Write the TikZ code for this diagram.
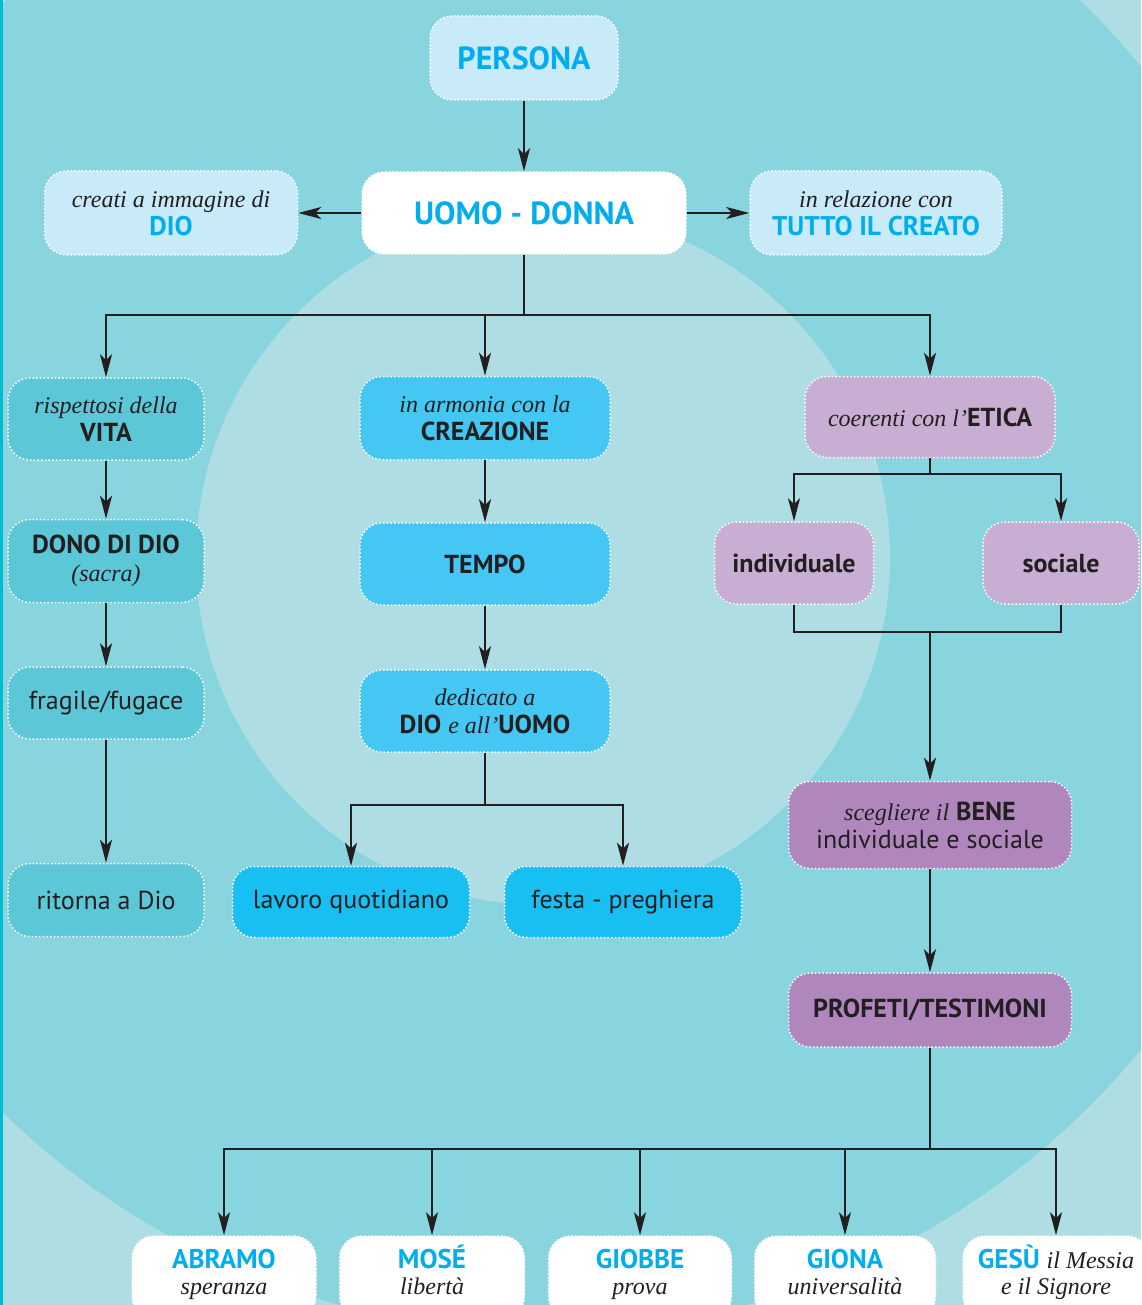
\documentclass[tikz,border=0pt]{standalone}
\usepackage{fontspec}
\setmainfont{PT Sans}
\newfontfamily\garafont{Liberation Serif}
\usetikzlibrary{arrows.meta}
\definecolor{fondo}{HTML}{88D4DF}
\definecolor{alone}{HTML}{AEDDE3}
\definecolor{bordo}{HTML}{00BCD0}
\definecolor{celestino}{HTML}{C9EAF8}
\definecolor{verdeacqua}{HTML}{5CC7D6}
\definecolor{azzurro}{HTML}{44C7F3}
\definecolor{azzurrovivo}{HTML}{17BFF2}
\definecolor{lilla}{HTML}{C9AED3}
\definecolor{viola}{HTML}{B087BD}
\definecolor{ciano}{HTML}{00AEEF}
\definecolor{inchiostro}{HTML}{231F20}
\newcommand{\titolo}[1]{{\fontsize{32}{34}\selectfont\bfseries\color{ciano}#1}}
\newcommand{\blu}[1]{{\fontsize{27}{28}\selectfont\bfseries\color{ciano}#1}}
\newcommand{\grasso}[1]{{\fontsize{26}{28}\selectfont\bfseries #1}}
\newcommand{\cors}[1]{{\fontsize{24}{28}\selectfont\garafont\itshape #1}}

\begin{document}
\begin{tikzpicture}[x=1pt, y=-1pt,
  box/.style={rectangle, rounded corners=22pt, draw=white, line width=1.5pt,
    dash pattern=on 1.5pt off 2.2pt, align=center, inner sep=0pt,
    text=inchiostro, font=\fontsize{26}{28}\selectfont},
  nomebox/.style={box, fill=white, minimum height=82, text height=45, text depth=11},
  linea/.style={draw=inchiostro, line width=2.6pt},
  freccia/.style={linea, -{Stealth[length=23pt, width=12pt, inset=6pt]}}]
\useasboundingbox (0,0) rectangle (1141,1305);
\clip (0,0) rectangle (1141,1305);
% --- sfondo: cerchi concentrici ---
\fill[alone] (0,0) rectangle (1141,1305);
\fill[fondo] (543,558) circle[radius=774pt];
\fill[alone] (543,558) circle[radius=347pt];
\fill[bordo] (0,0) rectangle (3,1305);
% --- persona, uomo - donna ---
\node[box, fill=celestino, minimum width=188, minimum height=84] (persona) at (524,58) {\titolo{PERSONA}};
\node[box, fill=white, minimum width=324, minimum height=82] (uomo) at (524,213) {\titolo{UOMO - DONNA}};
\node[box, fill=celestino, minimum width=253, minimum height=84] (imgdio) at (171,213) {\cors{creati a immagine di}\\\blu{DIO}};
\node[box, fill=celestino, minimum width=252, minimum height=84] (creato) at (876,213) {\cors{in relazione con}\\\blu{TUTTO IL CREATO}};
\draw[freccia] (persona) -- (uomo);
\draw[freccia] (uomo) -- (imgdio);
\draw[freccia] (uomo) -- (creato);
\coordinate (b1) at (524,315);
\draw[linea] (uomo) -- (b1);
% --- vita ---
\node[box, fill=verdeacqua, minimum width=196, minimum height=82] (vita) at (106,419) {\cors{rispettosi della}\\\grasso{VITA}};
\node[box, fill=verdeacqua, minimum width=196, minimum height=83] (dono) at (106,561) {\grasso{DONO DI DIO}\\\cors{(sacra)}};
\node[box, fill=verdeacqua, minimum width=196, minimum height=72] (fragile) at (106,703) {fragile/fugace};
\node[box, fill=verdeacqua, minimum width=196, minimum height=73] (ritorna) at (106,900) {ritorna a Dio};
\draw[freccia] (b1) -| (vita);
\draw[freccia] (vita) -- (dono);
\draw[freccia] (dono) -- (fragile);
\draw[freccia] (fragile) -- (ritorna);
% --- creazione, tempo ---
\node[box, fill=azzurro, minimum width=250, minimum height=83] (crea) at (485,418) {\cors{in armonia con la}\\\grasso{CREAZIONE}};
\node[box, fill=azzurro, minimum width=250, minimum height=82] (tempo) at (485,564) {\grasso{TEMPO}};
\node[box, fill=azzurro, minimum width=250, minimum height=82] (dedicato) at (485,711) {\cors{dedicato a}\\\grasso{DIO} \cors{e all’}\grasso{UOMO}};
\node[box, fill=azzurrovivo, minimum width=237, minimum height=71] (lavoro) at (351,902) {lavoro quotidiano};
\node[box, fill=azzurrovivo, minimum width=237, minimum height=71] (festa) at (623,902) {festa - preghiera};
\draw[freccia] (b1) -| (crea);
\draw[freccia] (crea) -- (tempo);
\draw[freccia] (tempo) -- (dedicato);
\coordinate (d1) at (485,805);
\draw[linea] (dedicato) -- (d1);
\draw[freccia] (d1) -| (lavoro);
\draw[freccia] (d1) -| (festa);
% --- etica, bene ---
\node[box, fill=lilla, minimum width=250, minimum height=81] (etica) at (930,417) {\cors{coerenti con l’}\grasso{ETICA}};
\node[box, fill=lilla, minimum width=159, minimum height=82] (indiv) at (794,563) {\grasso{individuale}};
\node[box, fill=lilla, minimum width=156, minimum height=82] (sociale) at (1061,563) {\grasso{sociale}};
\node[box, fill=viola, minimum width=283, minimum height=87] (bene) at (930,825) {\cors{scegliere il} \grasso{BENE}\\individuale e sociale};
\node[box, fill=viola, minimum width=283, minimum height=74] (profeti) at (930,1010) {\grasso{PROFETI/TESTIMONI}};
\draw[freccia] (b1) -| (etica);
\coordinate (e1) at (930,474);
\draw[linea] (etica) -- (e1);
\draw[freccia] (e1) -| (indiv);
\draw[freccia] (e1) -| (sociale);
\coordinate (m1) at (930,632);
\draw[linea] (indiv) |- (m1) -| (sociale);
\draw[freccia] (m1) -- (bene);
\draw[freccia] (bene) -- (profeti);
% --- profeti ---
\node[nomebox, minimum width=184] (abramo) at (224,1277) {\blu{ABRAMO}\\[-2pt]\cors{speranza}};
\node[nomebox, minimum width=185] (mose) at (432,1277) {\blu{MOSÉ}\\[-2pt]\cors{libertà}};
\node[nomebox, minimum width=183] (giobbe) at (640,1277) {\blu{GIOBBE}\\[-2pt]\cors{prova}};
\node[nomebox, minimum width=181] (giona) at (845,1277) {\blu{GIONA}\\[-2pt]\cors{universalità}};
\node[nomebox, minimum width=186] (gesu) at (1056,1277) {\blu{GESÙ} \cors{il Messia}\\[-2pt]\cors{e il Signore}};
\coordinate (p1) at (930,1149);
\draw[linea] (profeti) -- (p1);
\draw[freccia] (p1) -| (abramo);
\draw[freccia] (p1) -| (mose);
\draw[freccia] (p1) -| (giobbe);
\draw[freccia] (p1) -| (giona);
\draw[freccia] (p1) -| (gesu);
\end{tikzpicture}
\end{document}
